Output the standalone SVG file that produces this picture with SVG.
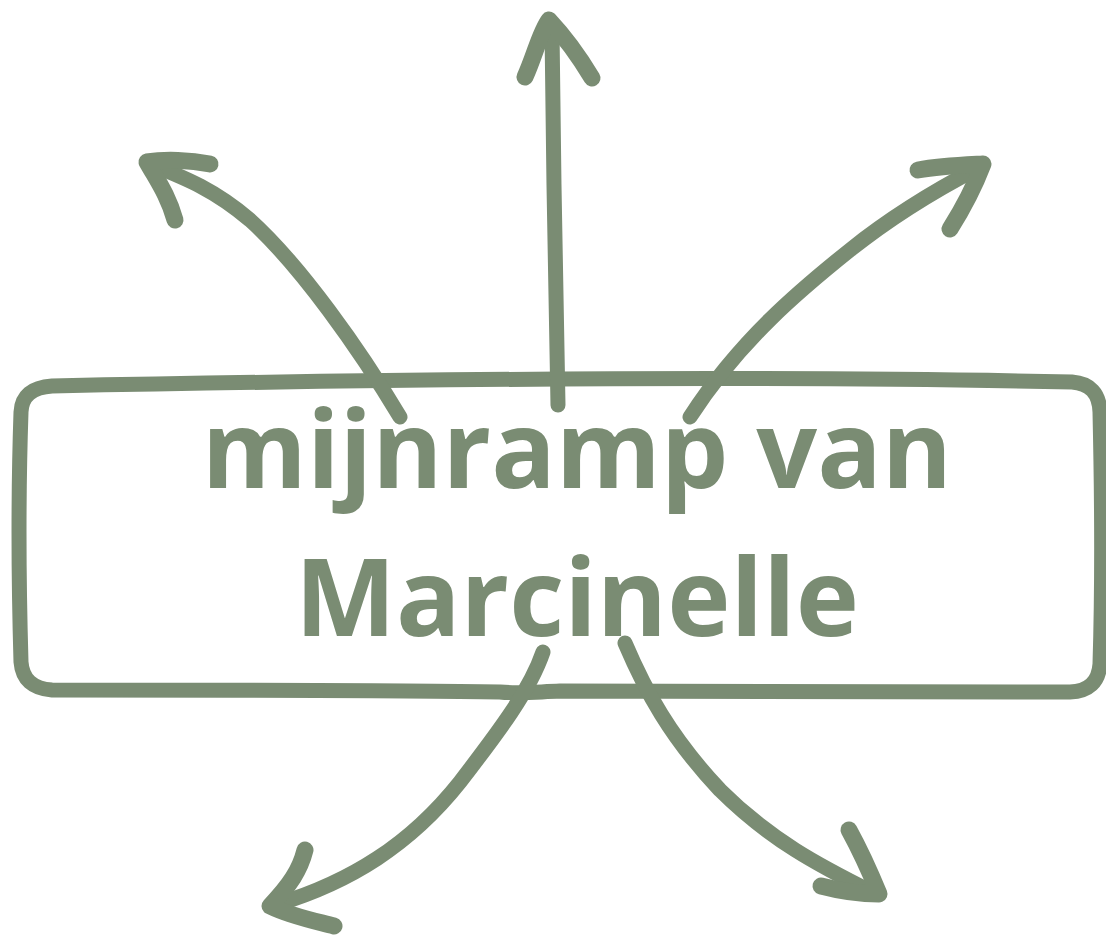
<svg xmlns="http://www.w3.org/2000/svg" width="1106" height="935" viewBox="0 0 1106 935">
<style>
.s{fill:none;stroke:#7a8c73;stroke-width:15;stroke-linecap:round;stroke-linejoin:round}
.h{fill:none;stroke:#7a8c73;stroke-width:17;stroke-linecap:round;stroke-linejoin:round}
.t{font-family:"Open Sans","Liberation Sans",sans-serif;font-weight:700;font-size:107px;fill:#7a8c73;text-anchor:middle}
</style>
<rect width="1106" height="935" fill="#ffffff"/>
<g id="box">
<path class="s" d="M52,386 C300,381 700,374 1072,382 Q1099,384 1100,412 C1102,500 1102,600 1100,664 Q1098,691 1070,692 C850,692 700,690 560,691 C535,692 520,694 500,692 C400,690 200,690 52,690 Q23,688 21,662 C18,560 19,470 21,412 Q22,388 52,386 Z"/>
<text class="t" x="577" y="488">mijnramp van</text>
<text class="t" x="577" y="636">Marcinelle</text>
</g>
<g id="connectors">
<g id="arrow-up">
<path class="s" d="M558,405 C556,300 553,150 552,30"/>
<path class="h" d="M525,77 C535,55 540,32 549,20 C565,37 580,58 592,78"/>
</g>
<g id="arrow-upleft">
<path class="s" d="M400,417 C360,350 300,265 250,220 C215,190 185,178 155,166"/>
<path class="h" d="M210,164 C190,160 165,159 147,162 C157,180 168,195 175,220"/>
</g>
<g id="arrow-upright">
<path class="s" d="M690,417 C740,340 800,290 850,250 C890,218 930,193 978,168"/>
<path class="h" d="M918,170 C940,166 965,165 983,164 C975,185 962,210 950,229"/>
</g>
<g id="arrow-downleft">
<path class="s" d="M543,652 C530,690 500,730 460,782 C410,845 350,882 278,904"/>
<path class="h" d="M305,850 C300,870 290,885 270,906 C290,916 315,921 334,926"/>
</g>
<g id="arrow-downright">
<path class="s" d="M625,643 C645,690 670,737 720,790 C770,840 820,866 872,892"/>
<path class="h" d="M849,830 C860,850 870,872 879,894 C860,894 840,891 821,886"/>
</g>
</g>
</svg>
